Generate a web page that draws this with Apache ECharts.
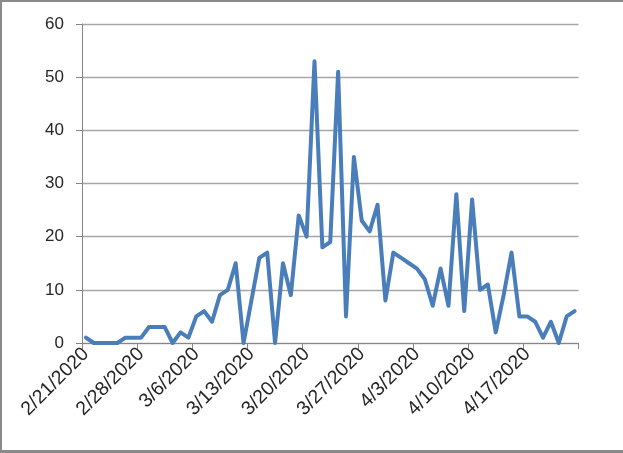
<!DOCTYPE html>
<html>
<head>
<meta charset="utf-8">
<script src="https://cdn.jsdelivr.net/npm/echarts@6/dist/echarts.min.js"></script>
<style>
html,body{margin:0;padding:0;background:#fff;}
#chart{position:absolute;left:0;top:0;width:623px;height:453px;}
#frame{position:absolute;left:0;top:0;width:621px;height:448px;border-top:2px solid #8a8a8a;border-left:2px solid #8a8a8a;border-bottom:3px solid #8a8a8a;pointer-events:none;}
</style>
</head>
<body>
<div id="chart"></div>
<div id="frame"></div>
<script>
// Dates 2/21/2020 .. 4/23/2020 (one per day)
const startDate = {y: 2020, m: 2, d: 21};
const dayCount = 63;
const values = [
  1, 0, 0, 0, 0, 1, 1, 1, 3, 3, 3, 0, 2, 1,
  5, 6, 4, 9, 10, 15, 0, 8, 16, 17, 0, 15, 9, 24,
  20, 53, 18, 19, 51, 5, 35, 23, 21, 26, 8, 17, 16, 15,
  14, 12, 7, 14, 7, 28, 6, 27, 10, 11, 2, 9, 17, 5,
  5, 4, 1, 4, 0, 5, 6
];
const yTicks = {min: 0, max: 60, interval: 10};

const categories = [];
for (let i = 0; i < dayCount; i++) {
  const dt = new Date(startDate.y, startDate.m - 1, startDate.d + i);
  categories.push((dt.getMonth() + 1) + '/' + dt.getDate() + '/' + dt.getFullYear());
}

const chart = echarts.init(document.getElementById('chart'), null, {renderer: 'canvas'});
const axisColor = '#868686';
const fontFamily = 'Liberation Sans, Arial, sans-serif';
chart.setOption({
  animation: false,
  grid: {left: 82, right: 44.5, top: 24, bottom: 110, containLabel: false},
  xAxis: {
    type: 'category',
    data: categories,
    boundaryGap: true,
    axisLine: {show: true, lineStyle: {color: axisColor, width: 1}},
    axisTick: {show: true, interval: 6, length: 6, lineStyle: {color: axisColor}},
    axisLabel: {interval: 6, rotate: 45, margin: 8, color: '#262626', fontFamily: fontFamily, fontSize: 19.5},
    splitLine: {show: false}
  },
  yAxis: {
    type: 'value',
    min: yTicks.min, max: yTicks.max, interval: yTicks.interval,
    axisLine: {show: true, lineStyle: {color: axisColor, width: 1}},
    axisTick: {show: true, length: 6, lineStyle: {color: axisColor}},
    axisLabel: {margin: 18, color: '#262626', fontFamily: fontFamily, fontSize: 17},
    splitLine: {show: true, lineStyle: {color: '#a6a6a6', width: 1.3}}
  },
  series: [{
    type: 'line',
    data: values,
    symbol: 'none',
    lineStyle: {color: '#4a7ebb', width: 4, join: 'round', cap: 'round'},
    itemStyle: {color: '#4a7ebb'}
  }]
});
</script>
</body>
</html>
